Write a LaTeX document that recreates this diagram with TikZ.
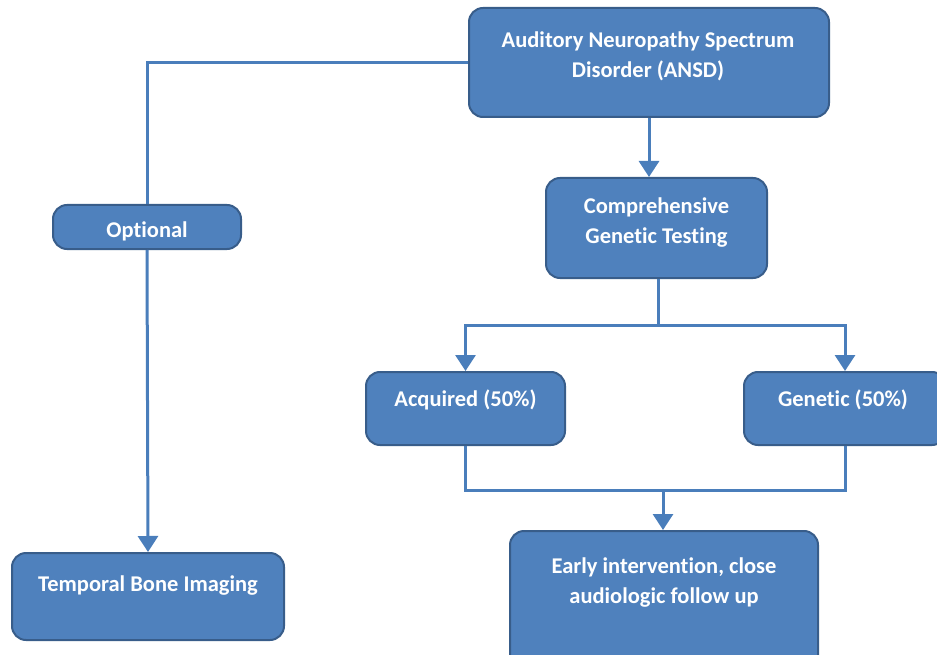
\documentclass[tikz,border=0pt]{standalone}
\usepackage{fontspec}
\setmainfont{Carlito}[Ligatures=NoCommon]
\usetikzlibrary{arrows.meta}
\definecolor{boxfill}{HTML}{4F81BD}
\definecolor{boxline}{HTML}{385D8A}
\definecolor{linkcol}{HTML}{4A7EBB}
\begin{document}
\begin{tikzpicture}[x=1pt, y=-1pt,
    box/.style={draw=boxline, line width=2pt, fill=boxfill, rounded corners=14pt},
    txt/.style={text=white, font=\bfseries\fontsize{22.5}{30}\selectfont, align=center},
    link/.style={draw=linkcol, line width=3pt},
    arr/.style={link, -{Triangle[width=20pt,length=16pt]}}]

    \useasboundingbox (0,0) rectangle (937,655);
    \clip (0,0) rectangle (937,655);

    % boxes
    \node[box, minimum width=360pt, minimum height=109pt] (ansd) at (649,62.5) {};
    \node[box, minimum width=188pt, minimum height=44pt] (opt) at (147,227) {};
    \node[box, minimum width=221pt, minimum height=100pt] (comp) at (656.5,228) {};
    \node[box, minimum width=199pt, minimum height=73pt] (acq) at (465.5,408.5) {};
    \node[box, minimum width=202pt, minimum height=73pt] (gen) at (845,408.5) {};
    \node[box, minimum width=272pt, minimum height=87pt] (tbi) at (148,596.5) {};
    \node[box, minimum width=308pt, minimum height=138pt] (early) at (664,600) {};

    % texts
    \node[txt] (ansd-t) at (648,56) {Auditory Neuropathy Spectrum\\Disorder (ANSD)};
    \node[txt] (opt-t) at (147,231) {Optional};
    \node[txt] (comp-t) at (656.5,223) {Comprehensive\\Genetic Testing};
    \node[txt] (acq-t) at (465.5,400) {Acquired (50\%)};
    \node[txt] (gen-t) at (843,400) {Genetic (50\%)};
    \node[txt] (tbi-t) at (148,586) {Temporal Bone Imaging};
    \node[txt] (early-t) at (664,583) {Early intervention, close\\audiologic follow up};

    % connectors
    \coordinate (split) at (658,325);
    \coordinate (merge) at (663,490);
    \draw[link] (ansd.west) -| (opt.north);
    \draw[arr] (opt.south) -- (tbi.north);
    \draw[arr] (ansd.south) -- (ansd.south |- comp.north);
    \draw[link] (comp.south -| split) -- (split);
    \draw[arr] (split) -| (acq.north);
    \draw[arr] (split) -| (gen.north);
    \draw[link] (acq.south) |- (merge);
    \draw[link] (gen.south) |- (merge);
    \draw[arr] (merge) -- (merge |- early.north);

\end{tikzpicture}
\end{document}
